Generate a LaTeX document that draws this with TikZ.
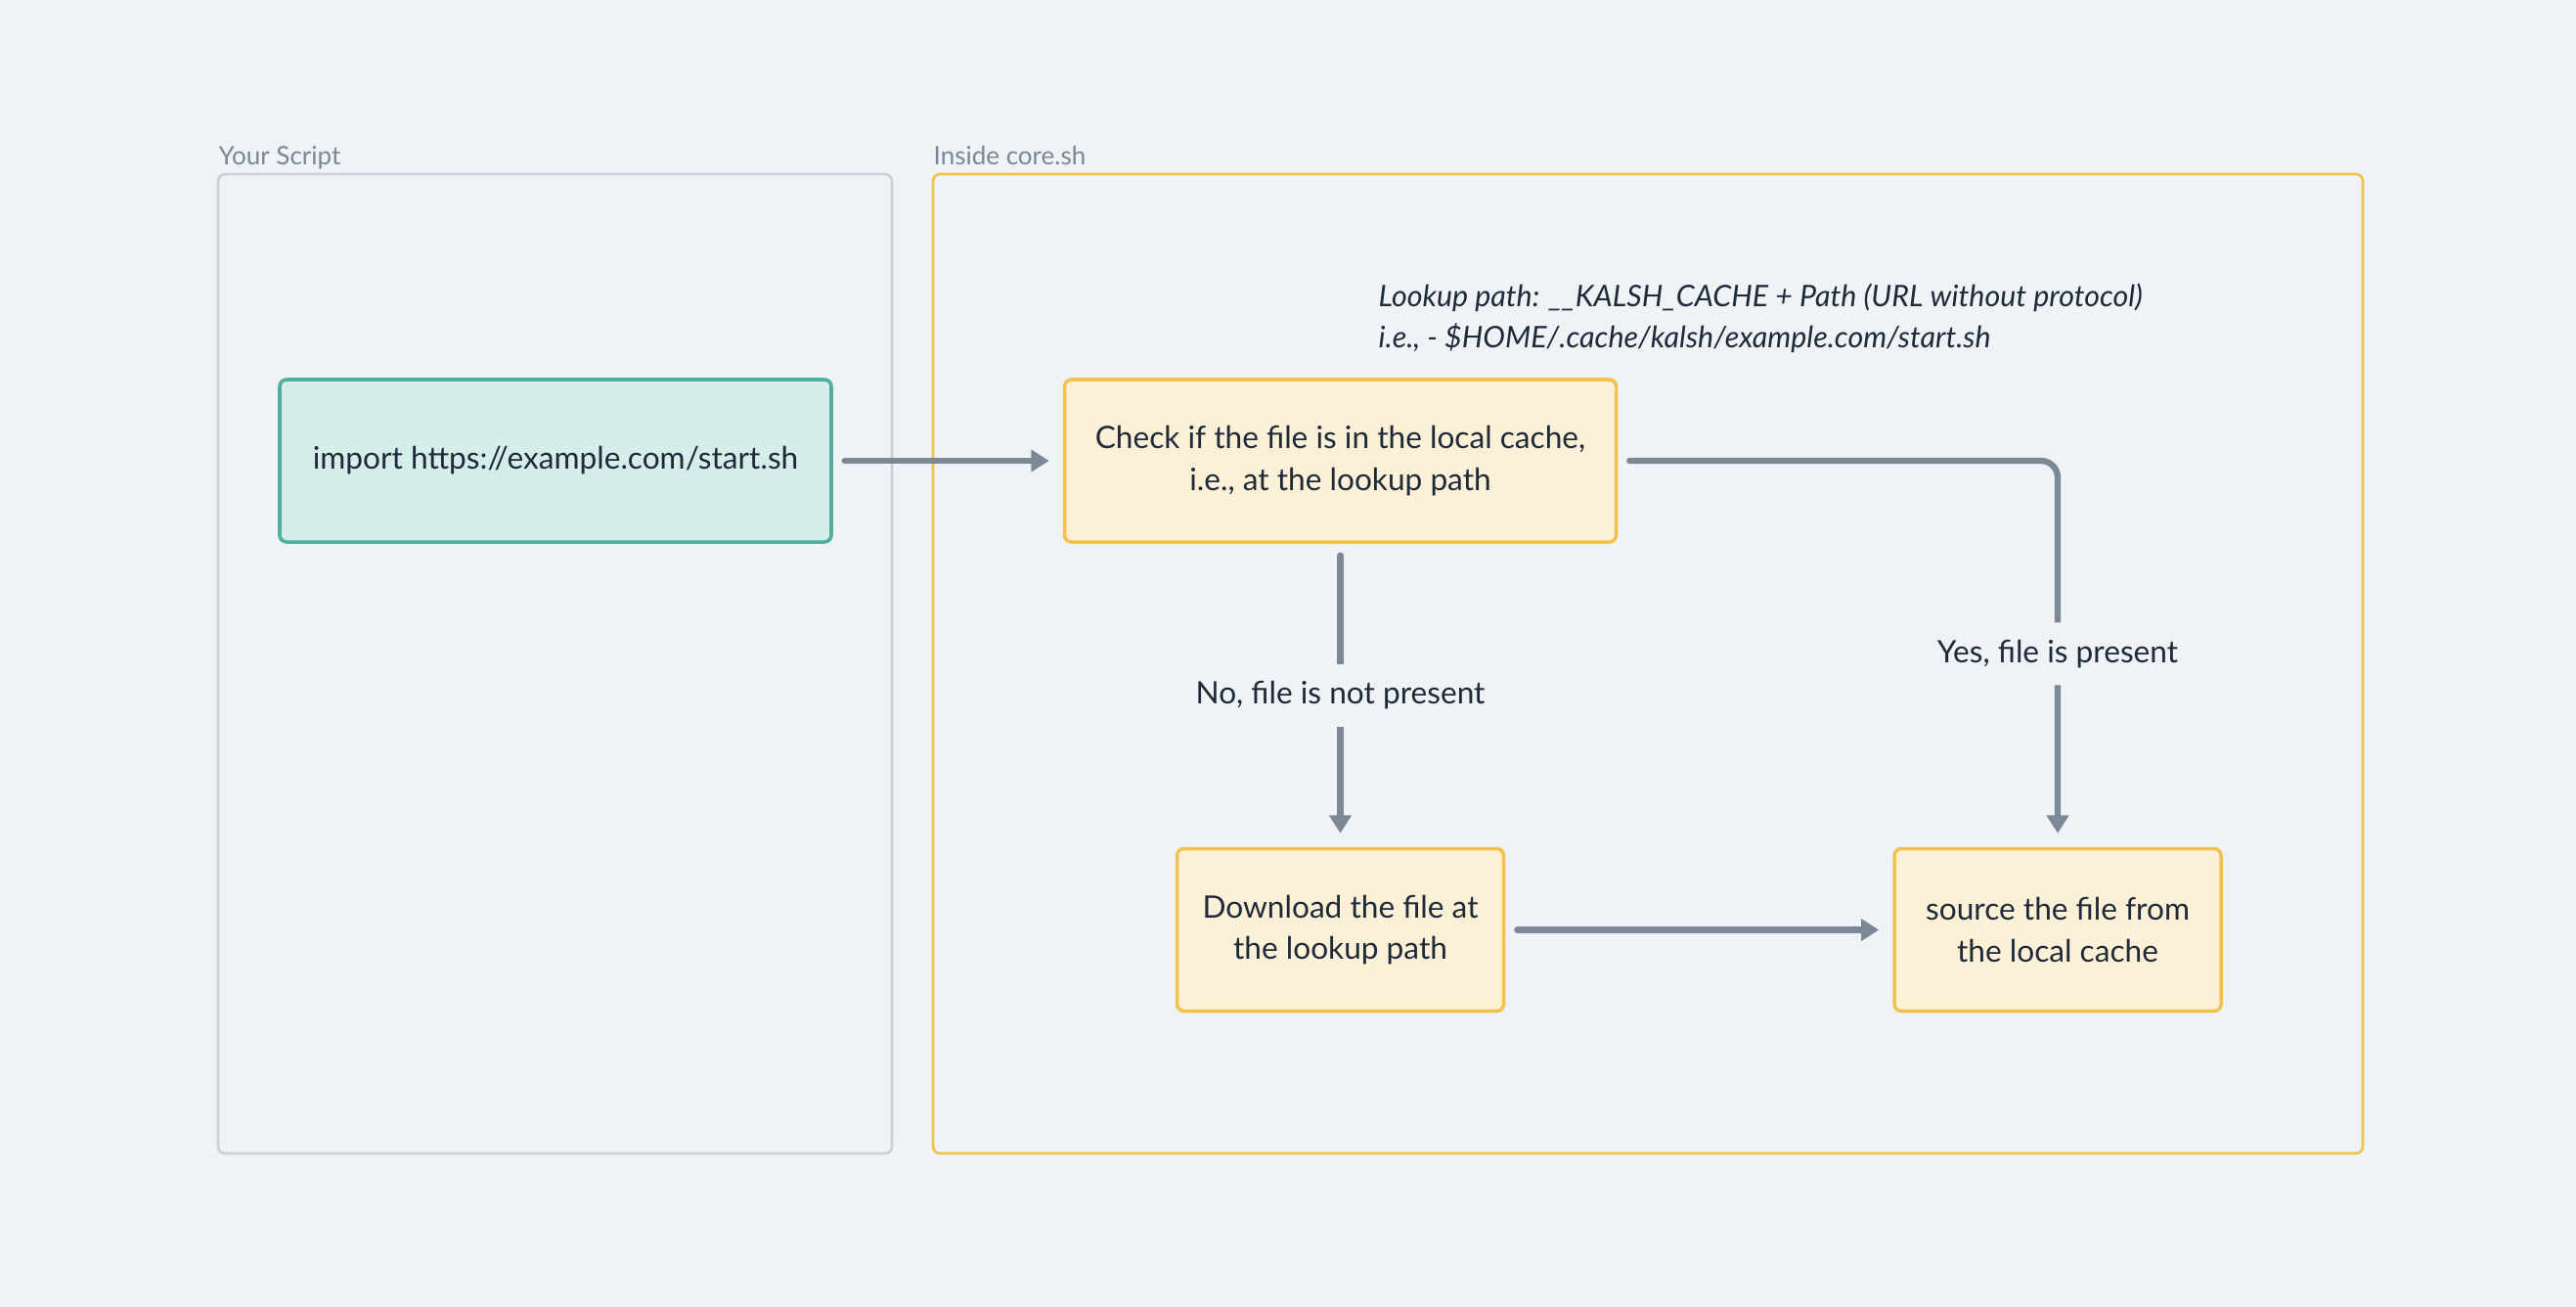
\documentclass[tikz,border=0pt]{standalone}
\usepackage{fontspec}
\setmainfont{Lato}
\usepackage{tikz}
\usetikzlibrary{positioning, arrows.meta}
\definecolor{bgcol}{HTML}{EFF3F6}
\definecolor{ink}{HTML}{1E2A3A}
\definecolor{mutedink}{HTML}{7A8794}
\definecolor{framegray}{HTML}{C8D1DA}
\definecolor{yellowline}{HTML}{F2C14E}
\definecolor{yellowfill}{HTML}{FCF1D6}
\definecolor{tealline}{HTML}{4FAE9C}
\definecolor{tealfill}{HTML}{D5EEEA}
\definecolor{arrowgray}{HTML}{7D8896}
\tikzset{>={Triangle[length=5.2pt,width=6.2pt]}, node distance = 2cm}

\begin{document}
\begin{tikzpicture}[frame/.style={rectangle, line width=0.75pt, rounded corners=2pt, outer sep=0pt, anchor=north west},
framelabel/.style={anchor=base west, inner sep=0pt, text=mutedink, font=\fontsize{7.4}{9}\selectfont},
box/.style={rectangle, line width=1pt, rounded corners=2pt, text=ink, align=center, minimum height=1.66cm, font=\fontsize{9}{12}\selectfont},
yellowbox/.style={box, draw=yellowline, fill=yellowfill},
flow/.style={->, draw=arrowgray, line width=1.8pt, line cap=round, shorten <=0.12cm, shorten >=0.14cm},
flowlabel/.style={fill=bgcol, text=ink, inner xsep=2pt, inner ysep=5pt, font=\fontsize{9}{12}\selectfont}]
    \fill[bgcol] (0,0) rectangle (26.34,-13.36);

    \node[frame, draw=framegray, minimum width=6.89cm, minimum height=10.01cm] (scriptframe) at (2.23,-1.78) {};
    \node[frame, draw=yellowline, minimum width=14.62cm, minimum height=10.01cm] (coreframe) at (9.54,-1.78) {};
    \node[framelabel, yshift=0.1cm] at (scriptframe.north west) {Your Script};
    \node[framelabel, yshift=0.1cm] at (coreframe.north west) {Inside core.sh};

    \node[box, draw=tealline, fill=tealfill, minimum width=5.64cm] (import) at (5.68,-4.71) {import https://example.com/start.sh};
    \node[yellowbox, minimum width=5.64cm, right=2.35cm of import] (check) {Check if the file is in the local cache,\\ i.e., at the lookup path};
    \node[yellowbox, minimum width=3.34cm, below=3.10cm of check] (download) {Download the file at\\ the lookup path};
    \node[yellowbox, minimum width=3.34cm, right=3.96cm of download] (source) {source the file from\\ the local cache};

    \node[anchor=west, align=left, inner sep=0pt, text=ink, font=\fontsize{8.65}{12}\selectfont\itshape] (lookup) at (14.09,-3.25) {Lookup path: \_\_KALSH\_CACHE + Path (URL without protocol)\\ i.e., - \$HOME/.cache/kalsh/example.com/start.sh};

    \draw[flow] (import) -- (check);
    \draw[flow] (check) -- node[flowlabel] {No, file is not present} (download);
    \draw[flow, rounded corners=0.17cm] (check) -| node[flowlabel, pos=0.75] {Yes, file is present} (source);
    \draw[flow] (download) -- (source);
\end{tikzpicture}
\end{document}
